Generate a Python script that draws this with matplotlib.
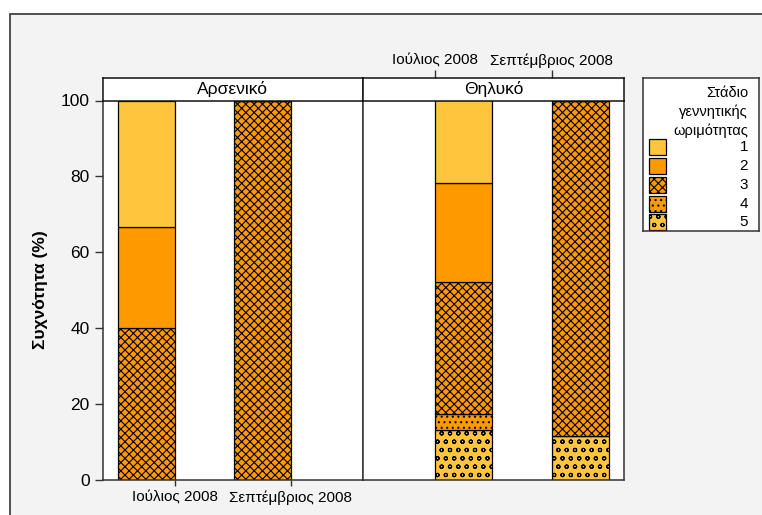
import matplotlib
matplotlib.use('Agg')
import matplotlib.pyplot as plt
from matplotlib.patches import Rectangle
import numpy as np

plt.rcParams['font.family'] = ['Liberation Sans', 'DejaVu Sans']
plt.rcParams['hatch.linewidth'] = 0.8

# Δεδομένα
months = ['Ιούλιος 2008', 'Σεπτέμβριος 2008']
panels = ['Αρσενικό', 'Θηλυκό']
stages = ['1', '2', '3', '4', '5']

# ποσοστά ανά στάδιο: [Ιούλιος, Σεπτέμβριος]
male_s1 = [33.3, 0.0]
male_s2 = [26.7, 0.0]
male_s3 = [40.0, 100.0]
male_s4 = [0.0, 0.0]
male_s5 = [0.0, 0.0]

female_s1 = [21.7, 0.0]
female_s2 = [26.1, 0.0]
female_s3 = [34.8, 88.4]
female_s4 = [4.4, 0.0]
female_s5 = [13.0, 11.6]

male = [male_s1, male_s2, male_s3, male_s4, male_s5]
female = [female_s1, female_s2, female_s3, female_s4, female_s5]

# στυλ σταδίων
yellow = '#ffc63d'
orange = '#ff9900'
face = [yellow, orange, orange, orange, yellow]
hatches = [None, None, 'xxxx', '...', 'oo']

W, H = 762, 515


def px_box(x0, y0, x1, y1):
    return [x0 / W, 1 - y1 / H, (x1 - x0) / W, (y1 - y0) / H]


fig = plt.figure(figsize=(W / 100, H / 100), dpi=100)
fig.patch.set_facecolor('white')
fig.add_artist(Rectangle((10 / W, -0.05), 1.0, 1.05 - 14 / H, transform=fig.transFigure,
                         facecolor='#f3f3f3', edgecolor='#333333', lw=1.2, zorder=-10))

axL = fig.add_axes(px_box(103, 100.5, 362.7, 479.5))
axR = fig.add_axes(px_box(362.7, 100.5, 624.3, 479.5))
stripL = fig.add_axes(px_box(103, 77.7, 362.7, 100.5))
stripR = fig.add_axes(px_box(362.7, 77.7, 624.3, 100.5))
legax = fig.add_axes(px_box(643.3, 77.7, 759, 231))

x = np.arange(len(months))
bw = 0.49
spine_col = '#333333'

for ax, data, sign in [(axL, male, -1), (axR, female, 1)]:
    bottom = np.zeros(len(months))
    # στοίβαξη από το στάδιο 5 (κάτω) προς το 1 (πάνω)
    for i in range(len(stages) - 1, -1, -1):
        vals = np.array(data[i])
        ax.bar(x, vals, width=sign * bw, align='edge', bottom=bottom,
               color=face[i], hatch=hatches[i], edgecolor='black', linewidth=0.9)
        bottom += vals
    ax.set_xlim(-0.62, 1.62)
    ax.set_ylim(0, 100)
    ax.set_facecolor('white')
    for s in ax.spines.values():
        s.set_color(spine_col)
        s.set_linewidth(1.1)
    ax.spines['top'].set_visible(False)

axL.set_xticks(x)
axL.set_xticklabels(months, fontsize=11)
axL.set_yticks(np.arange(0, 101, 20))
axL.tick_params(axis='y', labelsize=12.5, length=6, width=1, color=spine_col)
axL.tick_params(axis='x', length=4, width=1, color=spine_col, pad=4)
axL.set_ylabel('Συχνότητα (%)', fontsize=12.5, fontweight='bold', labelpad=9)

axR.set_xticks([])
axR.set_yticks([])

for st, name in [(stripL, panels[0]), (stripR, panels[1])]:
    st.set_facecolor('white')
    st.set_xlim(-0.62, 1.62)
    st.set_ylim(0, 1)
    st.set_yticks([])
    st.set_xticks([])
    for s in st.spines.values():
        s.set_color('#111111')
        s.set_linewidth(1.1)
    st.text(0.5, 0.5, name, transform=st.transAxes, ha='center', va='center', fontsize=12.5)

stripR.xaxis.tick_top()
stripR.set_xticks(x)
stripR.set_xticklabels(months, fontsize=11)
stripR.tick_params(axis='x', length=6, width=1, color=spine_col, pad=1)

# υπόμνημα
legax.set_xlim(643.3, 759)
legax.set_ylim(231, 77.7)
legax.set_xticks([])
legax.set_yticks([])
legax.set_facecolor('white')
for s in legax.spines.values():
    s.set_color('#333333')
    s.set_linewidth(1.1)
title_lines = ['Στάδιο', 'γεννητικής', 'ωριμότητας']
for j, t in enumerate(title_lines):
    legax.text(748, 93 + j * 18.8, t, ha='right', va='center', fontsize=10.5)
for i, st_name in enumerate(stages):
    yc = 147.3 + i * 18.75
    legax.add_patch(Rectangle((648.7, yc - 8), 17, 16, facecolor=face[i], hatch=hatches[i],
                              edgecolor='black', linewidth=0.9))
    legax.text(748, yc, st_name, ha='right', va='center', fontsize=11)

fig.savefig('out.png', dpi=100, facecolor=fig.get_facecolor())
